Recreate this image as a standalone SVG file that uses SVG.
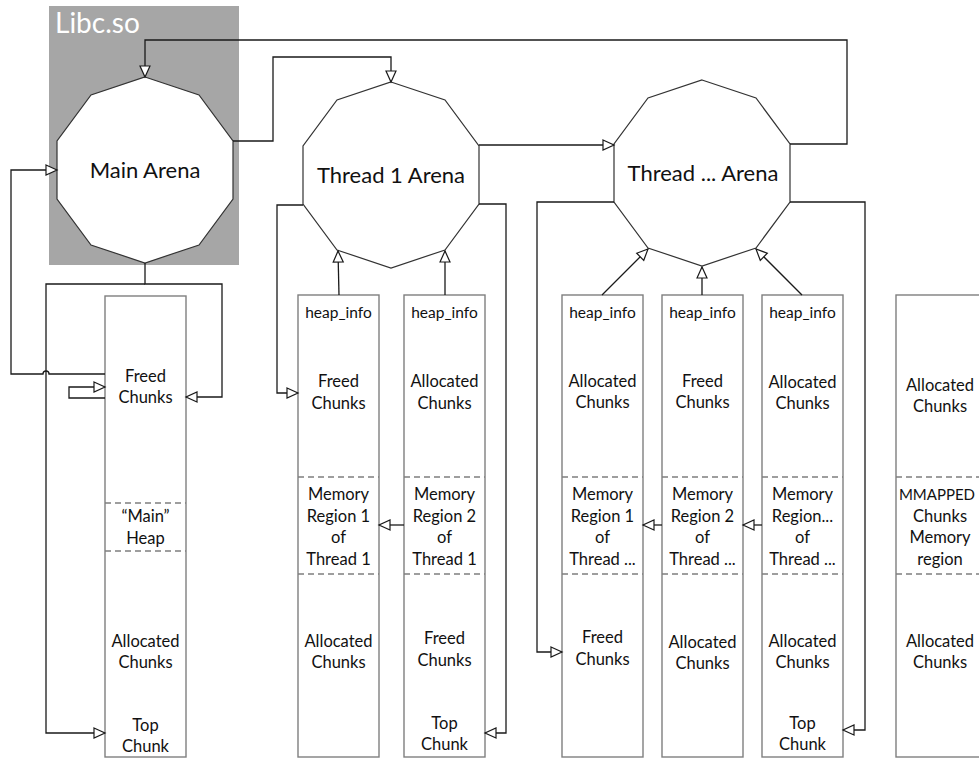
<svg xmlns="http://www.w3.org/2000/svg" width="979" height="758" viewBox="0 0 979 758">
<style>
text{font-family:Lato,"Liberation Sans",sans-serif;fill:#111;text-anchor:middle}
.t{font-size:16.5px}
.h{font-size:15.5px}
.ar{font-size:22px}
.col{fill:#fff;stroke:#7f7f7f;stroke-width:1.4}
.dash{stroke:#7f7f7f;stroke-width:1.3;stroke-dasharray:6,4;fill:none}
.dec{fill:#fff;stroke:#333;stroke-width:1.2}
.c{fill:none;stroke:#1a1a1a;stroke-width:1.3}
</style>
<defs>
<marker id="a" markerUnits="userSpaceOnUse" markerWidth="14" markerHeight="12" refX="12" refY="6" orient="auto" overflow="visible">
<path d="M1,1 L12,6 L1,11 Z" fill="#fff" stroke="#1a1a1a" stroke-width="1.2"/>
</marker>
</defs>

<g id="libc">
<rect x="49" y="6" width="190" height="259" fill="#a6a6a6"/>
<text x="55" y="33" style="font-size:28px;fill:#fff;text-anchor:start">Libc.so</text>
</g>

<g id="main-arena">
<polygon class="dec" points="145,77 199,95 233,141 233,199 199,245 145,263 91,245 57,199 57,141 91,95"/>
<text class="ar" x="145" y="178">Main Arena</text>
</g>

<g id="thread1-arena">
<polygon class="dec" points="391,82 445,100 479,146 479,204 445,250 391,268 337,250 303,204 303,146 337,100"/>
<text class="ar" x="391" y="183">Thread 1 Arena</text>
</g>

<g id="threadn-arena">
<polygon class="dec" points="702,80 756,98 790,144 790,202 756,248 702,266 648,248 614,202 614,144 648,98"/>
<text class="ar" x="703" y="181">Thread ... Arena</text>
</g>

<g id="main-heap">
<rect class="col" x="105" y="296" width="81" height="461"/>
<line class="dash" x1="105" y1="503" x2="186" y2="503"/>
<line class="dash" x1="105" y1="551" x2="186" y2="551"/>
<text class="t" x="145.5" y="382">Freed</text>
<text class="t" x="145.5" y="403">Chunks</text>
<text class="t" x="145.5" y="522">“Main”</text>
<text class="t" x="145.5" y="544">Heap</text>
<text class="t" x="145.5" y="647">Allocated</text>
<text class="t" x="145.5" y="668">Chunks</text>
<text class="t" x="145.5" y="731">Top</text>
<text class="t" x="145.5" y="752">Chunk</text>
</g>

<g id="t1-heap1">
<rect class="col" x="298" y="295" width="81" height="462"/>
<line class="dash" x1="298" y1="477" x2="379" y2="477"/>
<line class="dash" x1="298" y1="574" x2="379" y2="574"/>
<text class="h" x="338.5" y="318">heap_info</text>
<text class="t" x="338.5" y="387">Freed</text>
<text class="t" x="338.5" y="409">Chunks</text>
<text class="t" x="338.5" y="500">Memory</text>
<text class="t" x="338.5" y="522">Region 1</text>
<text class="t" x="338.5" y="543">of</text>
<text class="t" x="338.5" y="565">Thread 1</text>
<text class="t" x="338.5" y="647">Allocated</text>
<text class="t" x="338.5" y="668">Chunks</text>
</g>

<g id="t1-heap2">
<rect class="col" x="404" y="295" width="81" height="462"/>
<line class="dash" x1="404" y1="477" x2="485" y2="477"/>
<line class="dash" x1="404" y1="574" x2="485" y2="574"/>
<text class="h" x="444.5" y="318">heap_info</text>
<text class="t" x="444.5" y="387">Allocated</text>
<text class="t" x="444.5" y="409">Chunks</text>
<text class="t" x="444.5" y="500">Memory</text>
<text class="t" x="444.5" y="522">Region 2</text>
<text class="t" x="444.5" y="543">of</text>
<text class="t" x="444.5" y="565">Thread 1</text>
<text class="t" x="444.5" y="644">Freed</text>
<text class="t" x="444.5" y="666">Chunks</text>
<text class="t" x="444.5" y="729">Top</text>
<text class="t" x="444.5" y="750">Chunk</text>
</g>

<g id="tn-heap1">
<rect class="col" x="562" y="295" width="81" height="462"/>
<line class="dash" x1="562" y1="477" x2="643" y2="477"/>
<line class="dash" x1="562" y1="574" x2="643" y2="574"/>
<text class="h" x="602.5" y="318">heap_info</text>
<text class="t" x="602.5" y="387">Allocated</text>
<text class="t" x="602.5" y="408">Chunks</text>
<text class="t" x="602.5" y="500">Memory</text>
<text class="t" x="602.5" y="522">Region 1</text>
<text class="t" x="602.5" y="543">of</text>
<text class="t" x="602.5" y="565">Thread ...</text>
<text class="t" x="602.5" y="643">Freed</text>
<text class="t" x="602.5" y="665">Chunks</text>
</g>

<g id="tn-heap2">
<rect class="col" x="662" y="295" width="81" height="462"/>
<line class="dash" x1="662" y1="477" x2="743" y2="477"/>
<line class="dash" x1="662" y1="574" x2="743" y2="574"/>
<text class="h" x="702.5" y="318">heap_info</text>
<text class="t" x="702.5" y="387">Freed</text>
<text class="t" x="702.5" y="408">Chunks</text>
<text class="t" x="702.5" y="500">Memory</text>
<text class="t" x="702.5" y="522">Region 2</text>
<text class="t" x="702.5" y="543">of</text>
<text class="t" x="702.5" y="565">Thread ...</text>
<text class="t" x="702.5" y="648">Allocated</text>
<text class="t" x="702.5" y="669">Chunks</text>
</g>

<g id="tn-heap3">
<rect class="col" x="762" y="295" width="81" height="462"/>
<line class="dash" x1="762" y1="477" x2="843" y2="477"/>
<line class="dash" x1="762" y1="574" x2="843" y2="574"/>
<text class="h" x="802.5" y="318">heap_info</text>
<text class="t" x="802.5" y="388">Allocated</text>
<text class="t" x="802.5" y="409">Chunks</text>
<text class="t" x="802.5" y="500">Memory</text>
<text class="t" x="802.5" y="522">Region...</text>
<text class="t" x="802.5" y="543">of</text>
<text class="t" x="802.5" y="565">Thread ...</text>
<text class="t" x="802.5" y="647">Allocated</text>
<text class="t" x="802.5" y="668">Chunks</text>
<text class="t" x="802.5" y="729">Top</text>
<text class="t" x="802.5" y="750">Chunk</text>
</g>

<g id="mmap-heap">
<rect class="col" x="896" y="295" width="92" height="462"/>
<line class="dash" x1="896" y1="477" x2="988" y2="477"/>
<line class="dash" x1="896" y1="574" x2="988" y2="574"/>
<text class="t" x="940" y="391">Allocated</text>
<text class="t" x="940" y="412">Chunks</text>
<text class="t" x="937" y="500" style="font-size:15px">MMAPPED</text>
<text class="t" x="940" y="522">Chunks</text>
<text class="t" x="940" y="543">Memory</text>
<text class="t" x="940" y="565">region</text>
<text class="t" x="940" y="647">Allocated</text>
<text class="t" x="940" y="668">Chunks</text>
</g>

<g id="connectors" class="c">
<path class="c" d="M790,144 H847 V40 H145 V77" stroke-width="1.6" stroke="#404040" marker-end="url(#a)"/>
<path class="c" d="M233,141 H273 V57 H391 V82" marker-end="url(#a)"/>
<path class="c" d="M479,145 H614" marker-end="url(#a)"/>
<path class="c" d="M790,202 H865 V730 H843" marker-end="url(#a)"/>
<path class="c" d="M614,202 H537 V652 H562" marker-end="url(#a)"/>
<path class="c" d="M303,205 H277 V393 H298" marker-end="url(#a)"/>
<path class="c" d="M479,204 H506 V733 H485" marker-end="url(#a)"/>
<path class="c" d="M339,295 L338,251" marker-end="url(#a)"/>
<path class="c" d="M445,295 V251" marker-end="url(#a)"/>
<path class="c" d="M602,295 L648,249" marker-end="url(#a)"/>
<path class="c" d="M702,295 V267" marker-end="url(#a)"/>
<path class="c" d="M802,295 L756,249" marker-end="url(#a)"/>
<path class="c" d="M404,525 H379" marker-end="url(#a)"/>
<path class="c" d="M662,525 H643" marker-end="url(#a)"/>
<path class="c" d="M762,525 H743" marker-end="url(#a)"/>
<path class="c" d="M145,263 V284 H222 V397 H186" marker-end="url(#a)"/>
<path class="c" d="M145,284 H46 V733 H105" marker-end="url(#a)"/>
<path class="c" d="M105,374 H49 A3,3 0 0 0 43,374 H11 V170 H57" marker-end="url(#a)"/>
<path class="c" d="M105,398 H69 V387 H105" marker-end="url(#a)"/>
</g>
</svg>
